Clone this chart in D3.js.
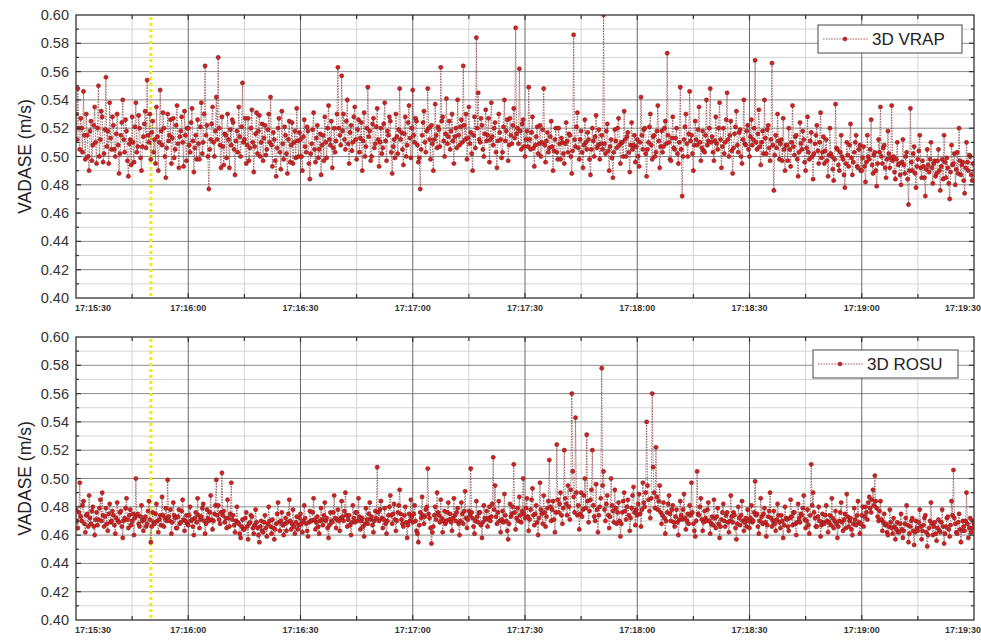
<!DOCTYPE html>
<html><head><meta charset="utf-8">
<script src="https://cdn.jsdelivr.net/npm/d3@7"></script>
<style>body{margin:0;background:#fff}svg{display:block}</style>
</head><body>
<svg id="chart" width="981" height="640"></svg>
<script>
// ---- data ----
const timeLabels = ["17:15:30","17:16:00","17:16:30","17:17:00","17:17:30","17:18:00","17:18:30","17:19:00","17:19:30"];
const yTickValues = [0.40,0.42,0.44,0.46,0.48,0.50,0.52,0.54,0.56,0.58,0.60];
const sampleStep = 0.25;     // seconds between samples (4 Hz)
const eventTime = 20;        // seconds after 17:15:30 (yellow marker)
const seriesNames = ["3D VRAP","3D ROSU"];

const vrap = [
.530,.512,.548,.520,.505,.527,.520,.503,.546,.515,.498,.530,.515,.500,.490,.518,.525,.497,.508,.522,.535,.510,.495,.520,.550,.500,.512,.532,.528,.496,.502,.519,.556,.507,.518,.495,.538,.513,.505,.528,
.522,.505,.500,.516,.530,.508,.488,.502,.515,.524,.540,.512,.503,.526,.518,.497,.486,.509,.512,.494,.528,.510,.496,.521,.538,.503,.507,.529,.520,.499,.490,.507,.514,.523,.532,.506,.554,.515,.510,.530,
.498,.517,.525,.503,.512,.495,.535,.514,.490,.510,.547,.518,.508,.531,.520,.500,.485,.506,.530,.511,.515,.526,.495,.513,.527,.499,.505,.522,.536,.509,.492,.514,.518,.528,.510,.493,.532,.515,.497,.520,
.520,.508,.503,.524,.534,.511,.489,.506,.515,.498,.526,.509,.498,.521,.538,.502,.510,.530,.564,.515,.522,.500,.477,.505,.512,.523,.535,.510,.500,.518,.542,.512,.570,.520,.508,.492,.528,.507,.494,.516,
.515,.499,.530,.512,.492,.519,.508,.526,.524,.505,.487,.511,.518,.503,.535,.514,.500,.521,.552,.510,.512,.527,.495,.508,.527,.497,.506,.520,.533,.510,.489,.507,.516,.531,.502,.518,.529,.500,.510,.523,
.497,.513,.522,.501,.505,.519,.530,.510,.542,.508,.493,.517,.512,.497,.486,.506,.520,.527,.503,.491,.532,.509,.498,.521,.515,.502,.488,.512,.525,.496,.508,.524,.495,.510,.518,.499,.534,.511,.500,.517,
.512,.500,.490,.514,.526,.507,.503,.521,.518,.495,.484,.502,.509,.519,.531,.505,.496,.513,.522,.499,.505,.516,.487,.508,.515,.497,.528,.510,.499,.520,.536,.512,.508,.525,.492,.506,.520,.503,.511,.530,
.563,.520,.515,.508,.557,.518,.530,.512,.505,.525,.540,.509,.495,.517,.522,.504,.510,.528,.535,.512,.498,.519,.526,.503,.513,.524,.490,.511,.531,.500,.507,.520,.549,.514,.518,.497,.500,.523,.527,.506,
.509,.521,.534,.512,.493,.510,.520,.502,.506,.523,.538,.511,.497,.518,.515,.528,.525,.503,.488,.507,.512,.499,.530,.514,.502,.519,.548,.512,.517,.505,.494,.516,.528,.500,.508,.524,.536,.513,.499,.520,
.547,.515,.510,.527,.525,.508,.496,.499,.477,.505,.515,.524,.532,.510,.503,.518,.548,.520,.512,.498,.522,.509,.490,.512,.537,.515,.506,.521,.519,.507,.563,.525,.528,.511,.500,.516,.541,.509,.514,.525,
.505,.518,.530,.511,.495,.514,.520,.506,.540,.515,.508,.521,.526,.510,.564,.522,.512,.530,.498,.513,.535,.509,.517,.502,.490,.515,.528,.506,.584,.520,.545,.512,.510,.527,.522,.505,.500,.516,.533,.511,
.515,.527,.496,.512,.538,.514,.508,.520,.524,.503,.492,.511,.530,.517,.512,.499,.503,.521,.540,.511,.518,.526,.497,.508,.527,.515,.509,.522,.534,.513,.591,.516,.520,.509,.562,.518,.505,.523,.526,.507,
.500,.512,.518,.507,.549,.512,.505,.517,.528,.506,.493,.508,.514,.521,.502,.509,.522,.500,.510,.519,.548,.508,.496,.511,.517,.503,.506,.514,.525,.507,.490,.504,.512,.520,.503,.498,.520,.509,.498,.513,
.510,.502,.495,.509,.524,.511,.503,.516,.515,.500,.488,.504,.586,.512,.507,.521,.531,.506,.498,.512,.518,.503,.492,.508,.526,.510,.505,.517,.512,.498,.487,.505,.520,.511,.500,.514,.529,.506,.508,.519,
.498,.509,.515,.505,.600,.509,.502,.518,.523,.504,.490,.507,.512,.499,.485,.503,.519,.511,.506,.520,.527,.508,.495,.510,.510,.500,.532,.512,.500,.514,.517,.503,.489,.508,.524,.505,.508,.515,.496,.507,
.512,.500,.493,.510,.542,.515,.505,.519,.520,.502,.486,.505,.510,.521,.530,.508,.498,.514,.515,.500,.503,.518,.536,.511,.492,.507,.518,.503,.507,.520,.525,.509,.573,.515,.510,.498,.497,.513,.528,.506,
.505,.513,.520,.502,.495,.510,.549,.505,.472,.500,.512,.521,.530,.509,.500,.516,.546,.511,.515,.502,.490,.508,.525,.512,.508,.519,.535,.510,.497,.506,.518,.504,.503,.515,.540,.508,.511,.520,.548,.510,
.514,.503,.497,.511,.528,.509,.505,.520,.538,.512,.492,.507,.520,.502,.510,.526,.545,.512,.500,.515,.525,.504,.488,.506,.516,.521,.532,.508,.503,.517,.519,.500,.495,.512,.540,.509,.508,.518,.522,.505,
.500,.514,.526,.508,.512,.520,.568,.510,.505,.516,.533,.507,.494,.510,.518,.502,.540,.513,.502,.519,.522,.506,.497,.512,.566,.508,.476,.501,.515,.506,.530,.511,.498,.509,.512,.497,.527,.505,.490,.508,
.508,.497,.520,.505,.493,.510,.536,.507,.501,.514,.515,.498,.486,.503,.524,.509,.505,.518,.512,.496,.490,.506,.528,.503,.498,.511,.517,.500,.484,.502,.509,.515,.522,.504,.495,.510,.531,.499,.503,.514,
.495,.504,.512,.497,.486,.501,.520,.502,.500,.491,.483,.498,.537,.506,.505,.494,.490,.503,.515,.500,.498,.487,.478,.495,.510,.501,.493,.508,.523,.499,.487,.496,.503,.510,.515,.493,.492,.505,.508,.490,
.490,.499,.507,.493,.482,.496,.515,.500,.498,.505,.526,.494,.488,.501,.503,.490,.479,.495,.512,.503,.535,.500,.495,.506,.508,.492,.485,.498,.518,.502,.492,.499,.536,.497,.500,.489,.484,.498,.510,.494,
.495,.487,.480,.496,.512,.494,.488,.500,.503,.484,.466,.490,.534,.496,.490,.502,.507,.488,.478,.493,.498,.504,.515,.492,.485,.497,.493,.485,.472,.491,.505,.494,.489,.498,.510,.492,.481,.495,.497,.486,
.488,.497,.505,.490,.476,.493,.498,.484,.515,.496,.485,.499,.492,.481,.470,.489,.508,.494,.495,.502,.480,.491,.503,.488,.520,.497,.487,.494,.496,.483,.474,.492,.510,.496,.490,.501,.500,.487,.483,.495,
.495];

const rosu = [
.478,.470,.465,.476,.497,.473,.470,.481,.484,.468,.462,.474,.475,.466,.488,.472,.468,.477,.480,.466,.460,.471,.476,.467,.471,.479,.485,.470,.490,.474,.466,.473,.479,.468,.463,.475,.482,.469,.470,.477,
.474,.467,.461,.472,.483,.470,.469,.476,.477,.466,.458,.470,.472,.479,.486,.471,.465,.474,.478,.467,.470,.475,.460,.472,.500,.474,.475,.468,.466,.473,.481,.470,.463,.471,.473,.466,.468,.477,.484,.471,
.455,.466,.476,.469,.468,.475,.482,.470,.462,.471,.474,.467,.487,.474,.466,.472,.479,.470,.499,.473,.470,.478,.461,.469,.483,.474,.472,.465,.465,.473,.478,.468,.469,.477,.485,.471,.463,.470,.474,.468,
.467,.474,.480,.470,.471,.466,.460,.472,.476,.469,.486,.474,.465,.471,.473,.479,.482,.470,.461,.468,.478,.472,.470,.476,.488,.471,.464,.470,.475,.481,.499,.474,.481,.471,.468,.476,.504,.474,.477,.469,
.472,.465,.485,.472,.466,.475,.497,.471,.474,.467,.462,.470,.480,.469,.468,.461,.458,.466,.471,.464,.464,.472,.476,.466,.457,.468,.469,.474,.473,.465,.461,.467,.478,.469,.465,.460,.455,.466,.470,.463,
.462,.469,.474,.465,.459,.468,.480,.470,.466,.461,.471,.465,.457,.464,.468,.475,.483,.469,.463,.470,.476,.467,.460,.468,.472,.463,.469,.475,.485,.470,.464,.468,.478,.466,.461,.469,.473,.464,.467,.472,
.475,.468,.462,.470,.481,.472,.468,.463,.459,.469,.477,.470,.470,.476,.486,.471,.464,.469,.473,.466,.461,.470,.479,.471,.467,.474,.483,.470,.472,.465,.458,.467,.476,.470,.469,.476,.488,.472,.465,.471,
.478,.470,.463,.472,.484,.473,.470,.477,.490,.474,.466,.471,.474,.467,.460,.469,.481,.472,.469,.476,.476,.470,.486,.473,.464,.470,.472,.466,.459,.468,.479,.471,.468,.475,.483,.471,.473,.467,.462,.470,
.477,.472,.508,.476,.470,.478,.484,.472,.465,.471,.479,.468,.461,.470,.474,.480,.488,.474,.468,.475,.482,.471,.463,.470,.476,.481,.492,.475,.471,.468,.466,.474,.480,.469,.458,.467,.475,.470,.485,.473,
.469,.475,.481,.470,.463,.461,.455,.467,.476,.472,.487,.474,.468,.473,.478,.480,.507,.475,.472,.465,.454,.462,.466,.474,.480,.471,.490,.476,.474,.469,.485,.472,.462,.470,.477,.468,.470,.476,.483,.471,
.475,.469,.463,.472,.486,.474,.470,.476,.479,.468,.460,.470,.483,.475,.468,.477,.491,.472,.465,.471,.477,.474,.507,.476,.472,.466,.461,.470,.484,.473,.469,.476,.476,.467,.458,.469,.481,.472,.471,.477,
.466,.472,.480,.470,.473,.482,.515,.478,.495,.473,.468,.476,.484,.470,.462,.471,.477,.469,.489,.474,.470,.463,.457,.468,.482,.473,.475,.480,.510,.476,.464,.472,.479,.470,.487,.474,.469,.477,.500,.475,
.472,.479,.486,.473,.463,.471,.478,.485,.493,.474,.467,.475,.481,.469,.460,.472,.497,.478,.475,.468,.488,.476,.466,.473,.479,.484,.513,.480,.470,.478,.484,.471,.462,.476,.524,.485,.476,.482,.490,.474,
.468,.479,.520,.486,.482,.474,.495,.480,.471,.492,.560,.505,.487,.476,.543,.490,.474,.481,.464,.475,.490,.473,.478,.488,.500,.479,.531,.484,.469,.477,.485,.492,.520,.481,.473,.470,.496,.478,.462,.474,
.480,.486,.578,.495,.505,.478,.470,.482,.488,.474,.465,.473,.500,.481,.477,.469,.492,.479,.468,.476,.483,.470,.459,.468,.476,.484,.490,.477,.471,.480,.485,.474,.463,.472,.479,.488,.494,.476,.467,.478,
.474,.482,.489,.475,.466,.478,.497,.483,.480,.490,.540,.495,.485,.477,.472,.486,.560,.508,.490,.479,.522,.487,.478,.484,.495,.476,.468,.474,.483,.472,.461,.470,.476,.482,.488,.475,.470,.478,.481,.469,
.466,.473,.478,.469,.460,.471,.484,.474,.471,.478,.489,.472,.464,.470,.475,.468,.481,.474,.497,.476,.468,.463,.459,.470,.505,.475,.474,.480,.486,.471,.463,.469,.477,.472,.470,.478,.483,.470,.461,.468,
.473,.467,.485,.472,.465,.473,.479,.468,.458,.466,.471,.476,.482,.470,.466,.474,.476,.469,.462,.470,.488,.473,.469,.476,.474,.465,.457,.468,.480,.472,.467,.474,.484,.470,.463,.469,.472,.466,.478,.470,
.465,.472,.481,.469,.470,.476,.498,.474,.475,.466,.461,.470,.486,.473,.468,.475,.479,.469,.459,.467,.473,.477,.490,.472,.466,.470,.477,.468,.463,.471,.482,.474,.469,.465,.474,.470,.458,.467,.480,.472,
.471,.466,.463,.472,.485,.473,.467,.476,.476,.468,.460,.469,.482,.472,.469,.475,.474,.479,.488,.471,.465,.470,.478,.467,.461,.474,.510,.481,.490,.476,.472,.466,.466,.473,.480,.470,.459,.467,.475,.469,
.468,.474,.481,.470,.462,.469,.474,.467,.486,.472,.465,.470,.477,.468,.458,.466,.470,.476,.483,.469,.463,.471,.475,.465,.489,.473,.466,.470,.472,.464,.460,.468,.479,.471,.467,.474,.484,.469,.461,.468,
.474,.480,.466,.473,.480,.476,.471,.483,.487,.479,.476,.485,.492,.481,.502,.484,.479,.473,.470,.477,.484,.471,.463,.469,.475,.467,.468,.462,.460,.466,.478,.469,.465,.461,.472,.466,.457,.464,.469,.462,
.462,.468,.475,.464,.458,.463,.468,.472,.481,.467,.455,.461,.466,.470,.472,.463,.453,.462,.470,.465,.463,.469,.478,.466,.457,.463,.467,.472,.474,.462,.452,.460,.465,.470,.483,.468,.460,.466,.469,.461,
.456,.465,.471,.463,.462,.469,.478,.466,.454,.461,.466,.472,.473,.464,.459,.467,.484,.474,.506,.472,.468,.462,.461,.469,.475,.464,.455,.463,.470,.466,.463,.470,.490,.468,.458,.465,.472,.462,.465,.470,
.468];

// ---- layout ----
const svg = d3.select("#chart");
const X0 = 76, X1 = 974;
const panels = [
  {data: vrap, name: seriesNames[0], top: 15, bottom: 298, legend: {x: 818, y: 25, w: 144, h: 28}},
  {data: rosu, name: seriesNames[1], top: 337, bottom: 620, legend: {x: 813, y: 350, w: 145, h: 28}}
];
const totalSec = (timeLabels.length - 1) * 30;
const x = d3.scaleLinear().domain([0, totalSec]).range([X0, X1]);
const font = "Arial, 'Liberation Sans', sans-serif";
const lineColor = "#8e4a4a", dotFill = "#dc1e1e", dotStroke = "#5e1a1a";

panels.forEach((p, pi) => {
  const y = d3.scaleLinear().domain([0.40, 0.60]).range([p.bottom, p.top]);
  const g = svg.append("g");

  g.append("rect").attr("x", X0).attr("y", p.top).attr("width", X1 - X0).attr("height", p.bottom - p.top).attr("fill", "#fff");

  // minor grid
  const minorY = d3.range(0.41, 0.60, 0.02);
  g.selectAll(".mgy").data(minorY).enter().append("line")
    .attr("x1", X0).attr("x2", X1).attr("y1", d => y(d)).attr("y2", d => y(d))
    .attr("stroke", "#d4d4d4").attr("stroke-width", 1);
  const minorX = d3.range(15, totalSec, 30);
  g.selectAll(".mgx").data(minorX).enter().append("line")
    .attr("y1", p.top).attr("y2", p.bottom).attr("x1", d => x(d)).attr("x2", d => x(d))
    .attr("stroke", "#d4d4d4").attr("stroke-width", 1);
  // major grid
  g.selectAll(".gy").data(yTickValues.slice(1, -1)).enter().append("line")
    .attr("x1", X0).attr("x2", X1).attr("y1", d => y(d)).attr("y2", d => y(d))
    .attr("stroke", "#8a8a8a").attr("stroke-width", 1);
  g.selectAll(".gx").data(d3.range(30, totalSec, 30)).enter().append("line")
    .attr("y1", p.top).attr("y2", p.bottom).attr("x1", d => x(d)).attr("x2", d => x(d))
    .attr("stroke", "#6a6a6a").attr("stroke-width", 1);

  // yellow event marker
  g.append("line").attr("x1", x(eventTime)).attr("x2", x(eventTime))
    .attr("y1", p.top + 2).attr("y2", p.bottom)
    .attr("stroke", "#ecec1a").attr("stroke-width", 3).attr("stroke-dasharray", "3,3");

  const cid = "clip" + pi;
  svg.append("clipPath").attr("id", cid).append("rect")
    .attr("x", X0).attr("y", p.top).attr("width", X1 - X0).attr("height", p.bottom - p.top);
  const dg = g.append("g").attr("clip-path", `url(#${cid})`);

  const line = d3.line().x((d, i) => x(i * sampleStep)).y(d => y(d));
  dg.append("path").datum(p.data).attr("d", line)
    .attr("fill", "none").attr("stroke", lineColor).attr("stroke-width", 0.8)
    .attr("stroke-dasharray", "1.5,1.2");
  dg.selectAll("circle").data(p.data).enter().append("circle")
    .attr("cx", (d, i) => x(i * sampleStep)).attr("cy", d => y(d)).attr("r", 2.1)
    .attr("fill", dotFill).attr("stroke", dotStroke).attr("stroke-width", 0.5);

  // frame
  g.append("rect").attr("x", X0).attr("y", p.top).attr("width", X1 - X0).attr("height", p.bottom - p.top)
    .attr("fill", "none").attr("stroke", "#333").attr("stroke-width", 1.3);

  // inward ticks
  const tk = g.append("g").attr("stroke", "#333").attr("stroke-width", 1.2);
  d3.range(0.41, 0.60, 0.01).forEach(v => {
    const len = Math.abs(Math.round(v * 100) % 2) === 0 ? 5 : 3;
    tk.append("line").attr("x1", X0).attr("x2", X0 + len).attr("y1", y(v)).attr("y2", y(v));
    tk.append("line").attr("x1", X1).attr("x2", X1 - len).attr("y1", y(v)).attr("y2", y(v));
  });
  d3.range(15, totalSec, 15).forEach(s => {
    const len = s % 30 === 0 ? 5 : 4;
    tk.append("line").attr("x1", x(s)).attr("x2", x(s)).attr("y1", p.bottom).attr("y2", p.bottom - len);
    tk.append("line").attr("x1", x(s)).attr("x2", x(s)).attr("y1", p.top).attr("y2", p.top + len);
  });

  // y tick labels
  g.selectAll(".yl").data(yTickValues).enter().append("text")
    .attr("x", 69).attr("y", d => y(d) + 5)
    .attr("text-anchor", "end").attr("font-family", font).attr("font-size", 14.5)
    .attr("fill", "#333").text(d => d.toFixed(2));

  // x tick labels
  g.selectAll(".xl").data(timeLabels).enter().append("text")
    .attr("x", (d, i) => i === 0 ? x(0) - 1 : (i === timeLabels.length - 1 ? x(totalSec) + 7 : x(i * 30)))
    .attr("y", p.bottom + 13)
    .attr("text-anchor", (d, i) => i === 0 ? "start" : (i === timeLabels.length - 1 ? "end" : "middle"))
    .attr("font-family", font).attr("font-size", 9).attr("font-weight", "bold")
    .attr("fill", "#333").text(d => d);

  // y axis title
  g.append("text")
    .attr("transform", `translate(31,${(p.top + p.bottom) / 2}) rotate(-90)`)
    .attr("text-anchor", "middle").attr("font-family", font).attr("font-size", 17.5)
    .attr("fill", "#222").text("VADASE (m/s)");

  // legend
  const L = p.legend;
  const lg = g.append("g");
  lg.append("rect").attr("x", L.x).attr("y", L.y).attr("width", L.w).attr("height", L.h)
    .attr("fill", "#fff").attr("stroke", "#666").attr("stroke-width", 1.2);
  const ly = L.y + L.h / 2;
  lg.append("line").attr("x1", L.x + 5).attr("x2", L.x + 50).attr("y1", ly).attr("y2", ly)
    .attr("stroke", lineColor).attr("stroke-width", 0.9).attr("stroke-dasharray", "1.5,1.2");
  lg.append("circle").attr("cx", L.x + 27).attr("cy", ly).attr("r", 2)
    .attr("fill", dotFill).attr("stroke", dotStroke).attr("stroke-width", 0.5);
  lg.append("text").attr("x", L.x + 54).attr("y", ly + 6)
    .attr("font-family", font).attr("font-size", 17).attr("fill", "#222").text(p.name);
});
</script>
</body></html>
